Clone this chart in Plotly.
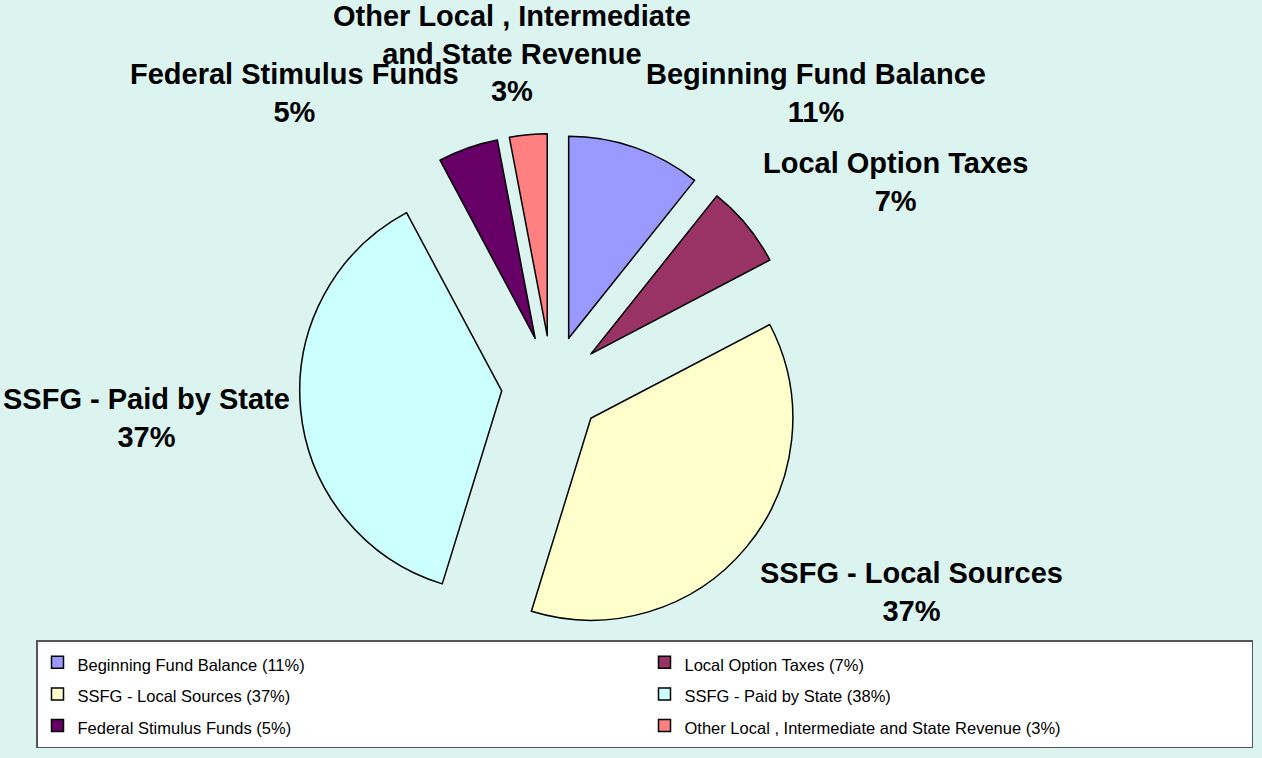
import plotly.graph_objects as go

# ---- data ----
categories = [
    "Beginning Fund Balance",
    "Local Option Taxes",
    "SSFG - Local Sources",
    "SSFG - Paid by State",
    "Federal Stimulus Funds",
    "Other Local , Intermediate and State Revenue",
]
values = [10.7, 6.6, 37.4, 37.4, 4.8, 3.0]
legend_pct = [11, 7, 37, 38, 5, 3]
label_lines = [
    "Beginning Fund Balance",
    "Local Option Taxes",
    "SSFG - Local Sources",
    "SSFG - Paid by State",
    "Federal Stimulus Funds",
    "Other Local , Intermediate<br>and State Revenue",
]
colors = ["#9999FF", "#993366", "#FFFFCC", "#CCFFFF", "#660066", "#FF8080"]

# ---- layout constants ----
W, H = 1262, 758
BG = "#DCF4F0"
FONT = "Arial, 'Liberation Sans', sans-serif"

total = sum(values)
pcts = [round(v / total * 100) for v in values]

legend_names = [
    f"<span style='font-size:16.5px'>{c} ({p}%)</span>" for c, p in zip(categories, legend_pct)
]

# pie geometry (pixels): centre (552,386), radius ~202, pull 0.25
cx, cy, r, pull = 552, 386, 202, 0.25
half = r * (1 + pull)
dom_x = [(cx - half) / W, (cx + half) / W]
dom_y = [1 - (cy + half) / H, 1 - (cy - half) / H]

fig = go.Figure(
    go.Pie(
        labels=legend_names,
        values=values,
        sort=False,
        direction="clockwise",
        rotation=0,
        pull=[pull] * len(values),
        marker=dict(colors=colors, line=dict(color="#000000", width=1.5)),
        textinfo="none",
        hoverinfo="none",
        domain=dict(x=dom_x, y=dom_y),
        showlegend=True,
    )
)

# label positions (pixel centres of label blocks)
label_pos = [(816, 93), (895, 182), (911, 592), (146, 418), (294, 93), (512, 53)]
for (px, py), name, p in zip(label_pos, label_lines, pcts):
    fig.add_annotation(
        x=px / W, y=1 - py / H, xref="paper", yref="paper",
        text=f"<b>{name}<br>{p}%</b>",
        showarrow=False, xanchor="center", yanchor="middle", align="center",
        font=dict(family=FONT, size=29, color="#000000"),
    )

fig.update_layout(
    width=W, height=H,
    margin=dict(l=0, r=0, t=0, b=0),
    paper_bgcolor=BG, plot_bgcolor=BG,
    font=dict(family=FONT, color="#000000"),
    legend=dict(
        orientation="h",
        x=36 / W, xanchor="left",
        y=1 - 640 / H, yanchor="top",
        bgcolor="#FFFFFF",
        bordercolor="#555555", borderwidth=1.5,
        font=dict(family=FONT, size=22, color="#000000"),
        entrywidth=562, entrywidthmode="pixels",
        traceorder="normal",
    ),
)

fig.write_html(
    "out.html",
    config={"displayModeBar": False},
    post_script="document.body.style.margin='0';document.body.style.padding='0';",
)
